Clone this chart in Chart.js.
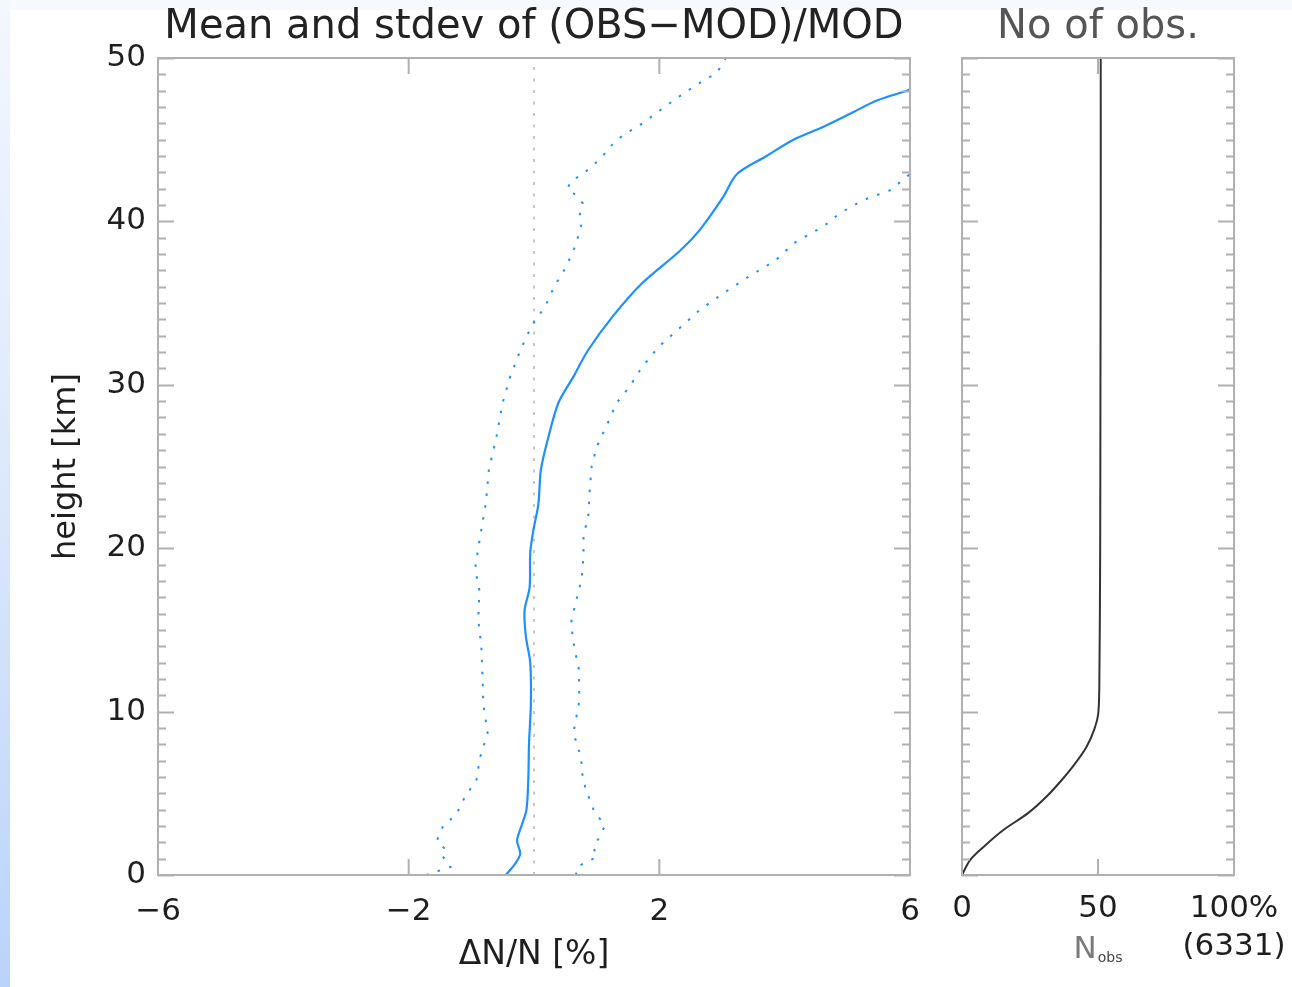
<!DOCTYPE html>
<html>
<head>
<meta charset="utf-8">
<script src="https://cdn.jsdelivr.net/npm/chart.js@4/dist/chart.umd.min.js"></script>
<style>
  html, body { margin: 0; padding: 0; background: #fff; }
  #page { position: relative; width: 1292px; height: 987px; overflow: hidden; background: #fff; }
  #topStrip { position: absolute; left: 0; top: 0; width: 1292px; height: 10px; background: #f6f9fe; }
  #leftStrip { position: absolute; left: 0; top: 0; width: 10px; height: 987px;
               background: linear-gradient(to bottom, #f3f7fe 0%, #dbe8fc 50%, #bad3fa 100%); }
  canvas { position: absolute; top: 0; }
  #devChart { left: 0; }
  #obsChart { left: 930px; }
</style>
</head>
<body>
<div id="page">
  <div id="topStrip"></div>
  <div id="leftStrip"></div>
  <canvas id="devChart" width="940" height="987"></canvas>
  <canvas id="obsChart" width="376" height="987"></canvas>
</div>
<script>
// mean of (OBS-MOD)/MOD in %, against height in km
var meanHeight = [0, 0.7, 1.3, 2.1, 3.0, 4.0, 6.0, 8.0, 10.5, 13.0, 14.6, 16.2, 17.6, 19.7, 21.1, 22.7, 24.8, 26.8, 28.9, 30.5, 32.1, 34.2, 36.2, 38.2, 39.5, 41.5, 42.9, 44.0, 45.0, 45.8, 46.7, 47.4, 48.0, 48.3];
var meanDev = [-0.45, -0.30, -0.22, -0.27, -0.20, -0.12, -0.09, -0.08, -0.05, -0.06, -0.13, -0.15, -0.07, -0.06, -0.01, 0.07, 0.11, 0.23, 0.39, 0.63, 0.86, 1.26, 1.72, 2.33, 2.65, 3.02, 3.24, 3.71, 4.14, 4.62, 5.10, 5.47, 5.95, 6.15];

// mean - stdev
var lowHeight = [0, 0.5, 1.2, 1.6, 2.1, 3.0, 3.7, 4.8, 5.8, 7.2, 8.7, 10.5, 11.9, 14.0, 15.6, 17.4, 18.7, 19.5, 20.7, 22.7, 24.8, 26.8, 28.9, 30.5, 32.1, 33.6, 34.8, 36.0, 37.2, 38.5, 39.7, 40.4, 41.1, 41.6, 42.0, 42.5, 42.9, 43.8, 44.8, 45.3, 46.0, 46.8, 47.6, 48.4, 49.1, 50.0];
var lowDev = [-1.72, -1.33, -1.47, -1.42, -1.55, -1.45, -1.24, -1.10, -0.92, -0.86, -0.74, -0.81, -0.82, -0.84, -0.89, -0.87, -0.94, -0.91, -0.86, -0.77, -0.72, -0.60, -0.50, -0.38, -0.22, -0.04, 0.18, 0.32, 0.51, 0.66, 0.75, 0.73, 0.78, 0.67, 0.53, 0.60, 0.78, 1.05, 1.27, 1.43, 1.73, 2.01, 2.30, 2.61, 2.92, 3.06];

// mean + stdev
var highHeight = [0, 0.5, 0.8, 1.1, 1.7, 2.3, 3.0, 4.0, 4.6, 5.8, 7.2, 8.7, 10.6, 12.5, 14.0, 15.4, 16.6, 18.1, 19.5, 20.7, 22.1, 23.6, 25.0, 26.2, 27.6, 28.9, 29.9, 30.6, 31.1, 32.3, 33.6, 34.6, 35.6, 36.6, 37.6, 38.7, 39.7, 40.5, 41.3, 41.9, 42.8, 43.1];
var highDev = [0.67, 0.69, 0.84, 1.00, 0.95, 1.04, 1.13, 0.95, 0.89, 0.78, 0.75, 0.63, 0.72, 0.72, 0.64, 0.59, 0.66, 0.76, 0.79, 0.79, 0.87, 0.89, 0.92, 1.00, 1.17, 1.32, 1.53, 1.64, 1.73, 1.98, 2.36, 2.65, 3.02, 3.42, 3.85, 4.16, 4.62, 4.88, 5.25, 5.68, 5.97, 6.05];

// number of observations, % of 6331
var obsHeight = [0, 0.9, 1.7, 2.75, 3.8, 4.8, 5.8, 6.8, 7.85, 8.9, 9.9, 11.9, 20, 30, 40, 50];
var obsPercent = [0, 2.9, 7.8, 15.2, 24.4, 31.1, 36.6, 41.5, 45.8, 48.6, 50.1, 50.5, 50.8, 50.9, 51.0, 51.0];

var heightTicks = [0, 10, 20, 30, 40, 50];
var devTicks = [-6, -2, 2, 6];
var obsTicks = [0, 50, 100];
var obsTickLabels = ['0', '50', ['100%', '(6331)']];

var blue = '#1e8fff';
var frameColor = '#b0b0b0';
var textColor = '#1e1e1e';

Chart.defaults.font.family = '"DejaVu Sans", sans-serif';

function toPoints(xs, ys) {
    return xs.map(function (x, i) { return { x: x, y: ys[i] }; });
}

// box round the plot with inward ticks, like the IDL plot
var framePlugin = {
    id: 'frame',
    beforeDatasetsDraw: function (chart, args, opts) {
        if (opts.zeroLine === undefined) return;
        var ctx = chart.ctx, a = chart.chartArea;
        var x0 = chart.scales.x.getPixelForValue(opts.zeroLine);
        ctx.save();
        ctx.strokeStyle = '#b4b4b4';
        ctx.lineWidth = 1.5;
        ctx.setLineDash([3, 8.5]);
        ctx.beginPath();
        ctx.moveTo(x0, a.bottom);
        ctx.lineTo(x0, a.top);
        ctx.stroke();
        ctx.restore();
    },
    afterDatasetsDraw: function (chart, args, opts) {
        var ctx = chart.ctx, a = chart.chartArea;
        var xs = chart.scales.x, ys = chart.scales.y;
        ctx.save();
        ctx.strokeStyle = frameColor;
        ctx.lineWidth = 2;
        ctx.beginPath();
        for (var h = 0; h <= 50; h++) {
            var y = Math.round(ys.getPixelForValue(h)) + 0.5;
            var len = h % 10 === 0 ? 16 : 8;
            ctx.moveTo(a.left, y); ctx.lineTo(a.left + len, y);
            ctx.moveTo(a.right, y); ctx.lineTo(a.right - len, y);
        }
        opts.xMajor.forEach(function (v) {
            var x = xs.getPixelForValue(v);
            ctx.moveTo(x, a.bottom); ctx.lineTo(x, a.bottom - 16);
            ctx.moveTo(x, a.top); ctx.lineTo(x, a.top + 16);
        });
        ctx.stroke();
        ctx.strokeRect(a.left, a.top, a.right - a.left, a.bottom - a.top);
        ctx.restore();
    }
};

// N with subscript obs under the 50 tick
var nobsPlugin = {
    id: 'nobs',
    afterDraw: function (chart) {
        var ctx = chart.ctx, a = chart.chartArea;
        var cx = chart.scales.x.getPixelForValue(50);
        ctx.save();
        ctx.textBaseline = 'alphabetic';
        ctx.textAlign = 'left';
        ctx.font = '31px "DejaVu Sans"';
        var wN = ctx.measureText('N').width;
        ctx.font = '14px "DejaVu Sans"';
        var wS = ctx.measureText('obs').width;
        var x0 = cx - (wN + wS + 1) / 2;
        ctx.fillStyle = '#7a7a7a';
        ctx.font = '31px "DejaVu Sans"';
        ctx.fillText('N', x0, a.bottom + 83);
        ctx.fillStyle = '#444';
        ctx.font = '14px "DejaVu Sans"';
        ctx.fillText('obs', x0 + wN + 1, a.bottom + 87);
        ctx.restore();
    }
};

var tickFont = { size: 31 };

var devChart = new Chart(document.getElementById('devChart'), {
    type: 'scatter',
    data: {
        datasets: [
            { label: 'mean - stdev', data: toPoints(lowDev, lowHeight), showLine: true, borderColor: blue, borderWidth: 2, borderDash: [2.5, 9.5], pointRadius: 0 },
            { label: 'mean + stdev', data: toPoints(highDev, highHeight), showLine: true, borderColor: blue, borderWidth: 2, borderDash: [2.5, 9.5], pointRadius: 0 },
            { label: 'mean', data: toPoints(meanDev, meanHeight), showLine: true, borderColor: blue, borderWidth: 2.2, tension: 0.3, pointRadius: 0 }
        ]
    },
    options: {
        responsive: false,
        animation: false,
        layout: { padding: { left: 0, right: 30, top: 0, bottom: 0 } },
        plugins: {
            legend: { display: false },
            tooltip: { enabled: false },
            title: {
                display: true,
                fullSize: false,
                text: 'Mean and stdev of (OBS\u2212MOD)/MOD',
                color: '#222',
                font: { size: 40, weight: 'normal' },
                padding: { top: 4, bottom: 6 }
            },
            frame: { xMajor: devTicks, zeroLine: 0 }
        },
        scales: {
            x: {
                type: 'linear', min: -6, max: 6,
                afterBuildTicks: function (s) { s.ticks = devTicks.map(function (v) { return { value: v }; }); },
                afterFit: function (s) { s.height = 112; },
                grid: { display: false, drawTicks: false },
                border: { display: false },
                ticks: {
                    color: textColor, font: tickFont, padding: 18, maxRotation: 0,
                    callback: function (v) { return v < 0 ? '\u2212' + Math.abs(v) : String(v); }
                },
                title: { display: true, text: '\u0394N/N [%]', color: textColor, font: { size: 33 }, padding: { top: 0, bottom: 12 } }
            },
            y: {
                type: 'linear', min: 0, max: 50,
                afterBuildTicks: function (s) { s.ticks = heightTicks.map(function (v) { return { value: v }; }); },
                afterFit: function (s) { s.width = 158; },
                grid: { display: false, drawTicks: false },
                border: { display: false },
                ticks: { color: textColor, font: tickFont, padding: 12 },
                title: { display: true, text: 'height [km]', color: textColor, font: { size: 32 }, padding: { top: 47, bottom: 0 } }
            }
        }
    },
    plugins: [framePlugin]
});

var obsChart = new Chart(document.getElementById('obsChart'), {
    type: 'scatter',
    data: {
        datasets: [
            { label: 'No of obs.', data: toPoints(obsPercent, obsHeight), showLine: true, borderColor: '#333', borderWidth: 2, tension: 0.3, pointRadius: 0 }
        ]
    },
    options: {
        responsive: false,
        animation: false,
        layout: { padding: { left: 0, right: 72, top: 0, bottom: 0 } },
        plugins: {
            legend: { display: false },
            tooltip: { enabled: false },
            title: {
                display: true,
                fullSize: false,
                text: 'No of obs.',
                color: '#555',
                font: { size: 40, weight: 'normal' },
                padding: { top: 4, bottom: 6 }
            },
            frame: { xMajor: [50] }
        },
        scales: {
            x: {
                type: 'linear', min: 0, max: 100,
                afterBuildTicks: function (s) { s.ticks = obsTicks.map(function (v) { return { value: v }; }); },
                afterFit: function (s) { s.height = 112; },
                grid: { display: false, drawTicks: false },
                border: { display: false },
                ticks: {
                    color: textColor, font: { size: 31, lineHeight: 1.22 }, padding: 15, maxRotation: 0,
                    callback: function (v) { return obsTickLabels[obsTicks.indexOf(v)]; }
                }
            },
            y: {
                type: 'linear', min: 0, max: 50,
                afterFit: function (s) { s.width = 32; },
                grid: { display: false, drawTicks: false },
                border: { display: false },
                ticks: { display: false }
            }
        }
    },
    plugins: [framePlugin, nobsPlugin]
});
</script>
</body>
</html>
